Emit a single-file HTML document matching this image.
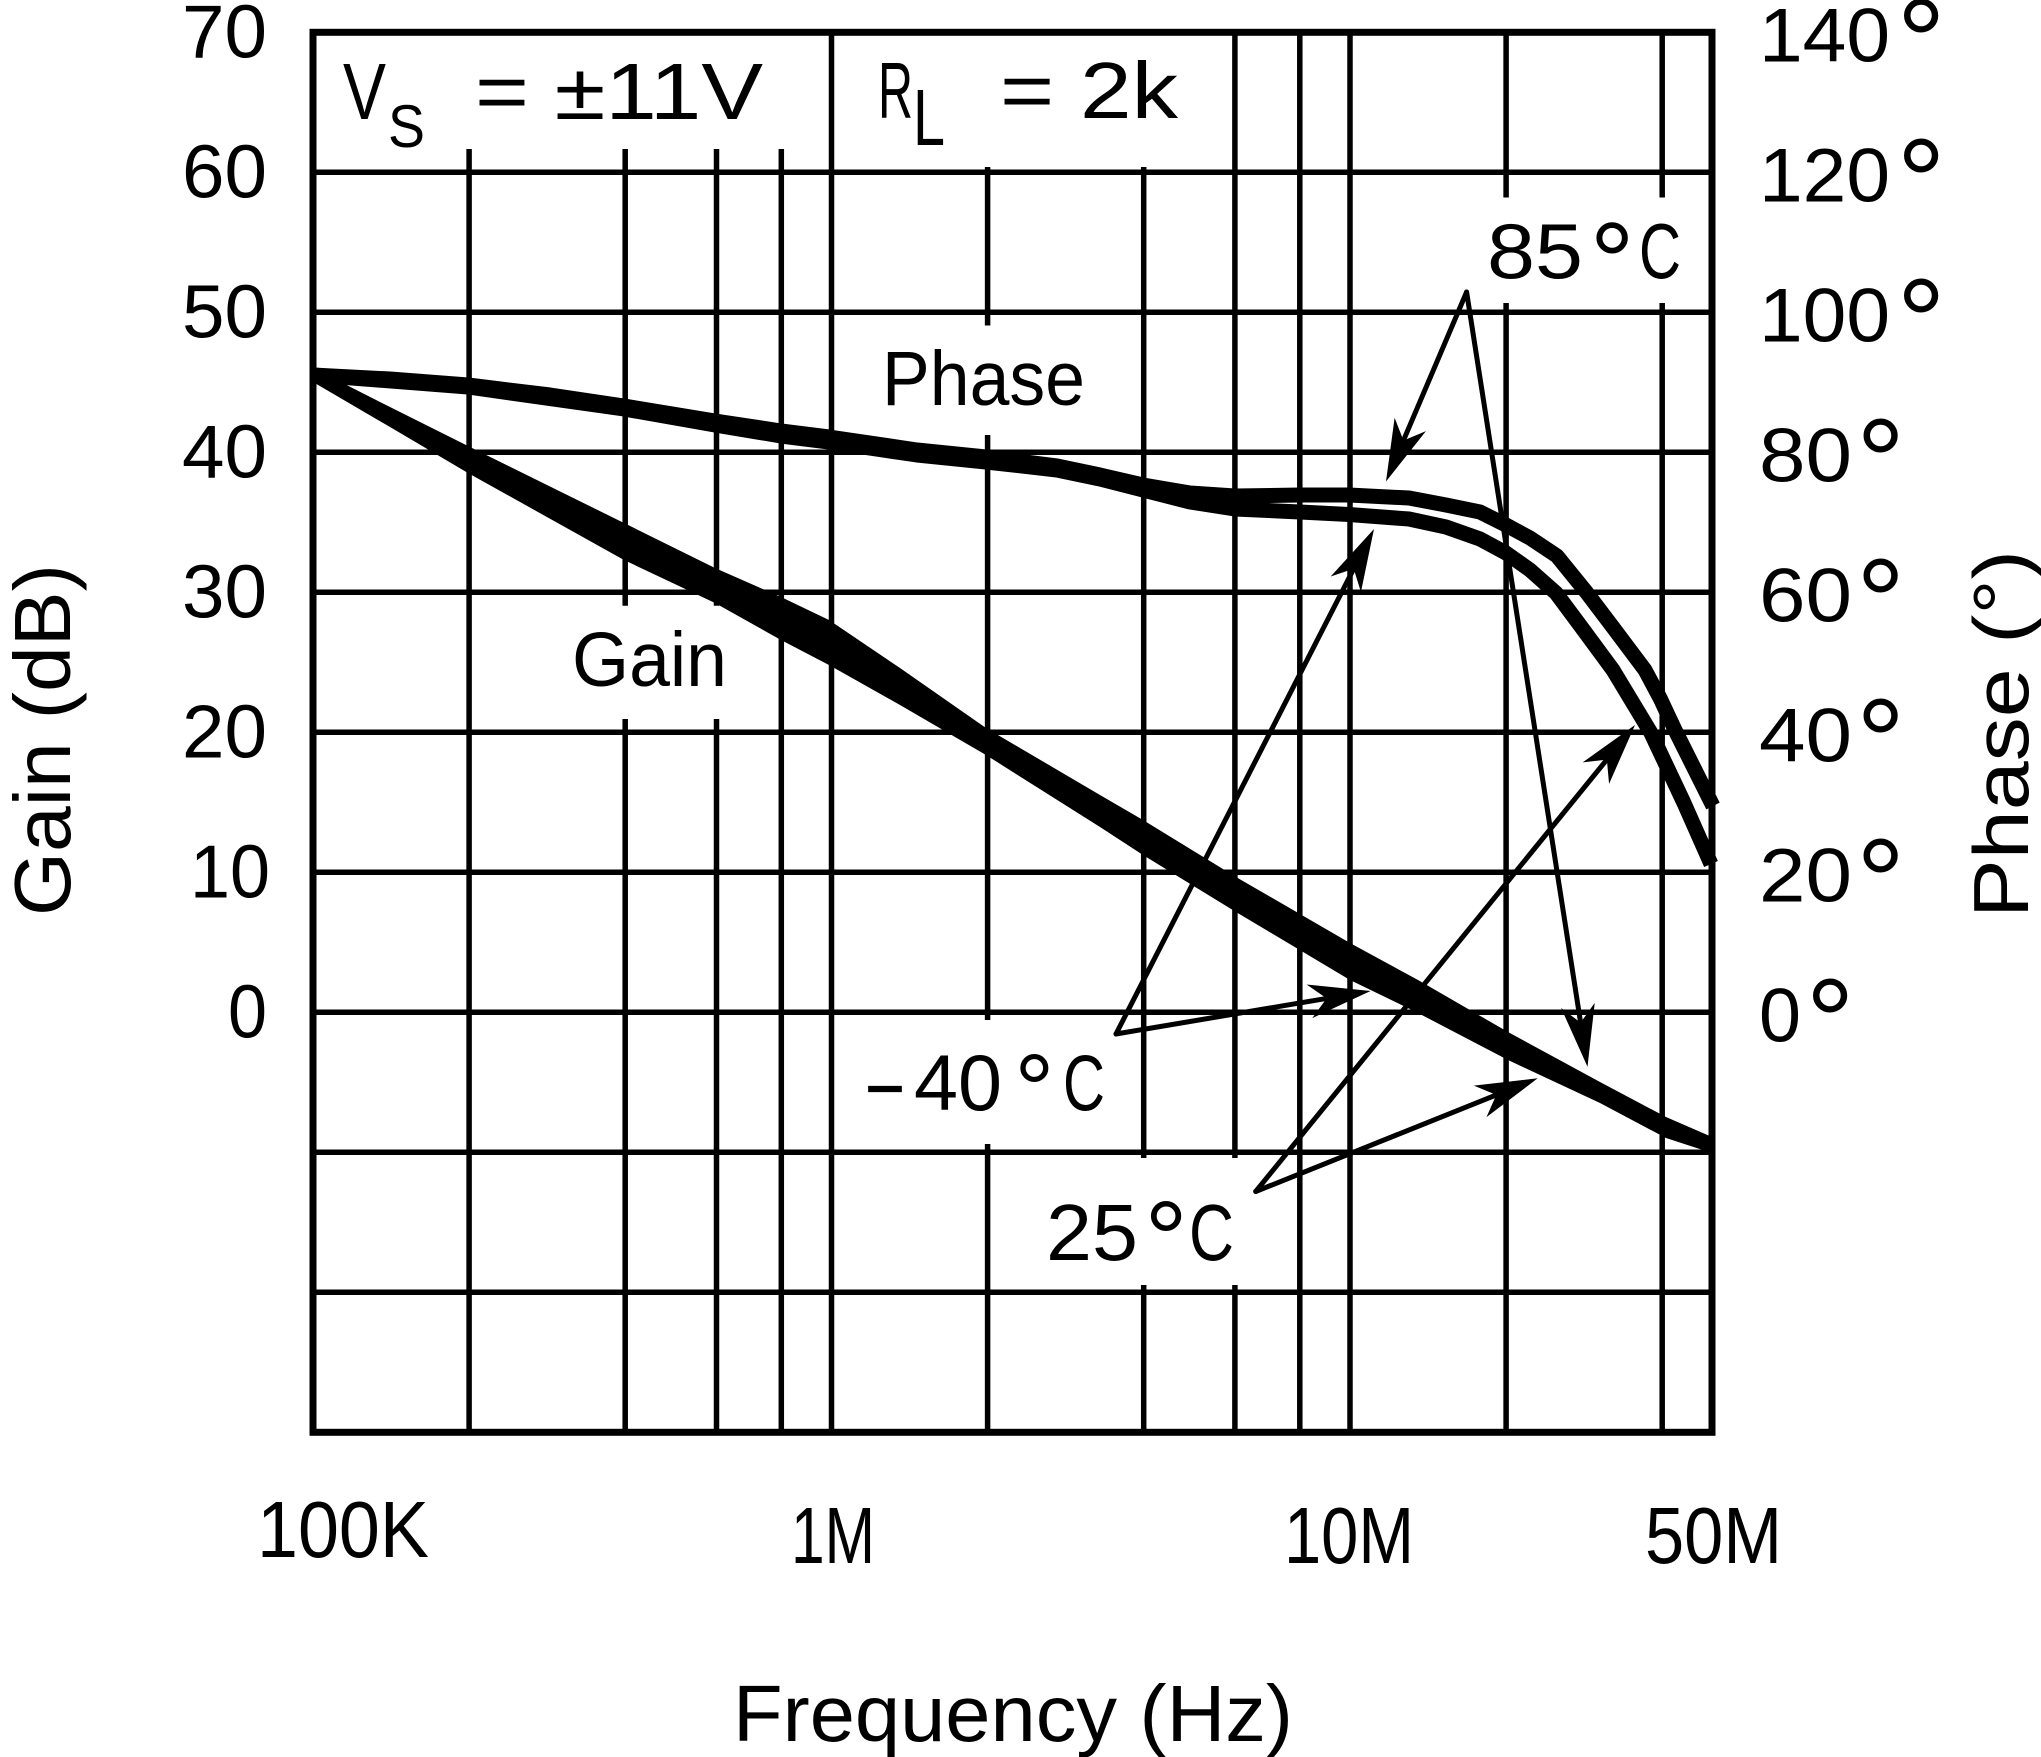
<!DOCTYPE html>
<html>
<head>
<meta charset="utf-8">
<style>
html,body{margin:0;padding:0;background:#fff;}
svg{display:block;}
text{font-family:"Liberation Sans",Arial,sans-serif;fill:#000;}
</style>
</head>
<body>
<svg width="2041" height="1757" viewBox="0 0 2041 1757" xmlns="http://www.w3.org/2000/svg">
<rect x="0" y="0" width="2041" height="1757" fill="#fff"/>

<!-- horizontal grid lines -->
<g stroke="#000" stroke-width="5.5" fill="none">
<line x1="313" y1="172.3" x2="1712" y2="172.3"/>
<line x1="313" y1="312.3" x2="1712" y2="312.3"/>
<line x1="313" y1="452.3" x2="1712" y2="452.3"/>
<line x1="313" y1="592.3" x2="1712" y2="592.3"/>
<line x1="313" y1="732.3" x2="1712" y2="732.3"/>
<line x1="313" y1="872.3" x2="1712" y2="872.3"/>
<line x1="313" y1="1012.3" x2="1712" y2="1012.3"/>
<line x1="313" y1="1152.3" x2="1712" y2="1152.3"/>
<line x1="313" y1="1292.3" x2="1712" y2="1292.3"/>
</g>

<!-- vertical grid lines -->
<g stroke="#000" stroke-width="5.5" fill="none">
<line x1="469.1" y1="149" x2="469.1" y2="1432"/>
<line x1="625.2" y1="149" x2="625.2" y2="605.7"/>
<line x1="625.2" y1="719" x2="625.2" y2="1432"/>
<line x1="716.5" y1="149" x2="716.5" y2="605.7"/>
<line x1="716.5" y1="719" x2="716.5" y2="1432"/>
<line x1="781.3" y1="149" x2="781.3" y2="1432"/>
<line x1="831.5" y1="32" x2="831.5" y2="1432"/>
<line x1="987.6" y1="167" x2="987.6" y2="325.5"/>
<line x1="987.6" y1="435" x2="987.6" y2="1020"/>
<line x1="987.6" y1="1144" x2="987.6" y2="1432"/>
<line x1="1143.7" y1="167" x2="1143.7" y2="1158"/>
<line x1="1143.7" y1="1285" x2="1143.7" y2="1432"/>
<line x1="1234.9" y1="32" x2="1234.9" y2="1158"/>
<line x1="1234.9" y1="1285" x2="1234.9" y2="1432"/>
<line x1="1299.8" y1="32" x2="1299.8" y2="1432"/>
<line x1="1350" y1="32" x2="1350" y2="1432"/>
<line x1="1506.1" y1="32" x2="1506.1" y2="197.5"/>
<line x1="1506.1" y1="303" x2="1506.1" y2="1432"/>
<line x1="1662.2" y1="32" x2="1662.2" y2="197.5"/>
<line x1="1662.2" y1="303" x2="1662.2" y2="1432"/>
</g>

<!-- gain band -->
<polygon fill="#000" points="313,368 390,407 468,446 624,523 715,568 781,597 829,620 900,668 986,728 1100,795 1143,820 1236,877 1350,943 1418,980 1508,1032 1600,1082 1666,1117 1712,1137 1712,1153 1666,1138 1600,1103 1508,1060 1418,1013 1350,980 1236,912 1143,855 1100,827 986,755 900,705 829,665 781,640 715,603 624,560 468,473 390,427 313,382"/>

<!-- phase curves -->
<polyline fill="none" stroke="#000" stroke-width="15" stroke-linejoin="round" points="313,375 468,387 624,409 715,425 781,436 829,442 917,455 986,462 1057,470 1100,479 1143,490 1190,502 1235,509 1300,512 1349,514.5 1409,519 1446,527 1480,539 1506,553 1530,570 1556,593 1585,632 1613,670 1651,733 1684,803 1711,864"/>
<polyline fill="none" stroke="#000" stroke-width="15" stroke-linejoin="round" points="313,375 390,379 468,385 550,395 624,406 715,421 781,431 829,437 917,450 986,457 1057,466 1100,475 1143,485 1190,493 1235,496 1300,495 1349,495 1409,498 1446,505 1480,512 1506,525 1530,538 1557,556 1587,593 1615,630 1645,670 1660,698 1675,730 1695,770 1713,806"/>

<!-- border -->
<rect x="313" y="32.3" width="1399" height="1400" fill="none" stroke="#000" stroke-width="7"/>

<!-- annotation arrows -->
<g stroke="#000" stroke-width="5" fill="none" stroke-linecap="round">
<line x1="1466.6" y1="292" x2="1403.46" y2="440.45"/>
<line x1="1466.6" y1="292" x2="1580.62" y2="1022.64"/>
<line x1="1116" y1="1034" x2="1353.71" y2="568.72"/>
<line x1="1116" y1="1034" x2="1326.62" y2="998.43"/>
<line x1="1255.7" y1="1191.5" x2="1606.86" y2="759.61"/>
<line x1="1255.7" y1="1191.5" x2="1496.31" y2="1094.91"/>
</g>
<g fill="#000">
<polygon points="1386,481.5 1394.62,417.79 1403.46,440.45 1425.92,431.09"/>
<polygon points="1587.5,1066.7 1561.14,1008.06 1580.62,1022.64 1594.74,1002.82"/>
<polygon points="1374,529 1360.93,591.95 1353.71,568.72 1330.65,576.47"/>
<polygon points="1370.6,991 1312.29,1018.08 1326.62,998.43 1306.63,984.56"/>
<polygon points="1635,725 1609.07,783.84 1606.86,759.61 1582.69,762.38"/>
<polygon points="1537.7,1078.3 1486.49,1117.18 1496.31,1094.91 1473.83,1085.62"/>
</g>

<!-- left tick labels -->
<g font-size="75">
<text x="182" y="57.3" textLength="85" lengthAdjust="spacingAndGlyphs">70</text>
<text x="182" y="197.3" textLength="85" lengthAdjust="spacingAndGlyphs">60</text>
<text x="182" y="337.3" textLength="85" lengthAdjust="spacingAndGlyphs">50</text>
<text x="182" y="477.3" textLength="85" lengthAdjust="spacingAndGlyphs">40</text>
<text x="182" y="617.3" textLength="85" lengthAdjust="spacingAndGlyphs">30</text>
<text x="182" y="757.3" textLength="85" lengthAdjust="spacingAndGlyphs">20</text>
<text x="190" y="897.3" textLength="80" lengthAdjust="spacingAndGlyphs">10</text>
<text x="228" y="1037.3" textLength="39" lengthAdjust="spacingAndGlyphs">0</text>
</g>

<!-- right tick labels -->
<g font-size="76">
<text x="1759" y="61.5" textLength="131" lengthAdjust="spacingAndGlyphs">140</text>
<text x="1759" y="201.5" textLength="131" lengthAdjust="spacingAndGlyphs">120</text>
<text x="1759" y="341.5" textLength="131" lengthAdjust="spacingAndGlyphs">100</text>
<text x="1759" y="481.5" textLength="93" lengthAdjust="spacingAndGlyphs">80</text>
<text x="1759" y="621.5" textLength="93" lengthAdjust="spacingAndGlyphs">60</text>
<text x="1759" y="761.5" textLength="93" lengthAdjust="spacingAndGlyphs">40</text>
<text x="1759" y="901.5" textLength="93" lengthAdjust="spacingAndGlyphs">20</text>
<text x="1759" y="1041.5" textLength="42" lengthAdjust="spacingAndGlyphs">0</text>
</g>
<g font-size="122">
<text x="1896.8" y="83.4">°</text>
<text x="1896.8" y="223.4">°</text>
<text x="1896.8" y="363.4">°</text>
<text x="1856.3" y="503.4">°</text>
<text x="1856.3" y="643.4">°</text>
<text x="1856.3" y="783.4">°</text>
<text x="1856.3" y="923.4">°</text>
<text x="1805.8" y="1063.4">°</text>
</g>

<!-- box text -->
<text x="343" y="119" font-size="80" textLength="43" lengthAdjust="spacingAndGlyphs">V</text>
<text x="388" y="147" font-size="60" textLength="37" lengthAdjust="spacingAndGlyphs">S</text>
<text x="475" y="119" font-size="80" textLength="288" lengthAdjust="spacingAndGlyphs">= ±11V</text>
<text x="878" y="118" font-size="80" textLength="35" lengthAdjust="spacingAndGlyphs">R</text>
<text x="913" y="145" font-size="80" textLength="32" lengthAdjust="spacingAndGlyphs">L</text>
<text x="1000" y="118" font-size="80" textLength="178" lengthAdjust="spacingAndGlyphs">= 2k</text>

<!-- curve labels -->
<text x="882" y="405" font-size="77" textLength="203" lengthAdjust="spacingAndGlyphs">Phase</text>
<text x="572" y="686" font-size="77" textLength="155" lengthAdjust="spacingAndGlyphs">Gain</text>

<!-- temperature labels -->
<text x="1487" y="278" font-size="78" textLength="96" lengthAdjust="spacingAndGlyphs">85</text>
<text x="1589.7" y="300.5" font-size="112">°</text>
<text x="1639" y="278" font-size="78" textLength="42" lengthAdjust="spacingAndGlyphs">C</text>

<text x="862" y="1110" font-size="79" textLength="46" lengthAdjust="spacingAndGlyphs">-</text>
<text x="914" y="1110" font-size="79" textLength="88" lengthAdjust="spacingAndGlyphs">40</text>
<text x="1014.4" y="1124" font-size="100">°</text>
<text x="1063" y="1110" font-size="79" textLength="42" lengthAdjust="spacingAndGlyphs">C</text>

<text x="1046" y="1260" font-size="80" textLength="92" lengthAdjust="spacingAndGlyphs">25</text>
<text x="1144.5" y="1276.3" font-size="108">°</text>
<text x="1189" y="1260" font-size="80" textLength="45" lengthAdjust="spacingAndGlyphs">C</text>

<!-- x tick labels -->
<g font-size="80">
<text x="257" y="1557" textLength="172" lengthAdjust="spacingAndGlyphs">100K</text>
<text x="791" y="1563" textLength="84" lengthAdjust="spacingAndGlyphs">1M</text>
<text x="1284" y="1563" textLength="130" lengthAdjust="spacingAndGlyphs">10M</text>
<text x="1645" y="1563" textLength="137" lengthAdjust="spacingAndGlyphs">50M</text>
</g>

<!-- axis titles -->
<text x="733" y="1741" font-size="80" textLength="560" lengthAdjust="spacingAndGlyphs">Frequency (Hz)</text>
<text transform="translate(70,916) rotate(-90)" font-size="80" textLength="352" lengthAdjust="spacingAndGlyphs">Gain (dB)</text>
<text transform="translate(2028,918) rotate(-90)" font-size="78" textLength="368" lengthAdjust="spacingAndGlyphs">Phase (°)</text>
</svg>
</body>
</html>
